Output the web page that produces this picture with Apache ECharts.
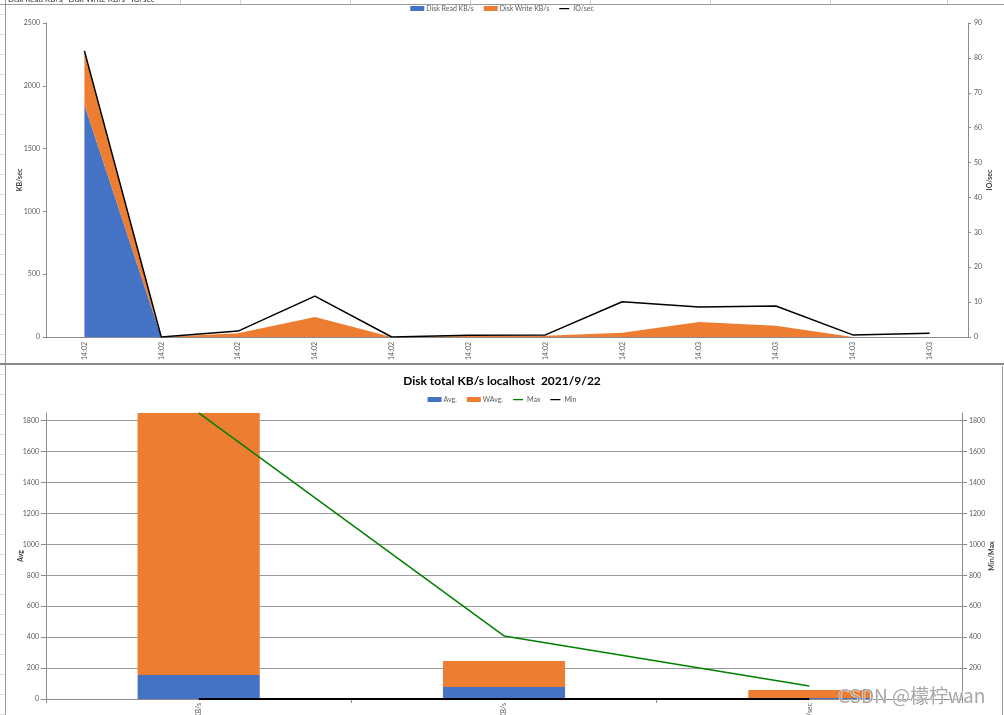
<!DOCTYPE html>
<html>
<head>
<meta charset="utf-8">
<script src="https://cdn.jsdelivr.net/npm/echarts@6/dist/echarts.min.js"></script>
<style>
html,body{margin:0;padding:0;background:#fff;}
#c{width:1004px;height:715px;}
</style>
</head>
<body>
<div id="c"></div>
<script>
// ---- top chart data ----
const times = ['14:02','14:02','14:02','14:02','14:02','14:02','14:02','14:02','14:03','14:03','14:03','14:03'];
const diskRead = [1847, 0, 0, 0, 0, 0, 0, 0, 0, 0, 0, 0];
const diskWrite = [430, 0, 29, 159, 0, 8, 10, 34, 119, 90, 0, 0];
const ioSec = [82, 0, 1.7, 11.7, 0, 0.5, 0.6, 10.1, 8.6, 8.9, 0.6, 1.1];

// ---- bottom chart data ----
const totalCats = ['Disk Read KB/s', 'Disk Write KB/s', 'IO/sec'];
const avgVals = [155, 78, 6];
const wavgVals = [1696, 168, 52];
const maxVals = [1851, 408, 84];
const minVals = [0, 0, 0];

const FONT = 'Lato, "Liberation Sans", sans-serif';
const LBL = {fontFamily: FONT, fontSize: 7, color: '#595959', formatter: v => String(v)};
const AX = '#8c8c8c';
const NAME_STYLE = {fontFamily: FONT, fontSize: 7, fontWeight: 'bold', color: '#404040'};
const LINE_ICON = 'path://M0,0L0.01,0L0,0.01Z M0,4L20,4L20,6.5L0,6.5Z M0,10L0.01,10L0,9.99Z';

const deco = [];
// spreadsheet decoration
deco.push({type:'line', shape:{x1:0,y1:4.5,x2:1004,y2:4.5}, style:{stroke:'#9a9a9a', lineWidth:1}});
deco.push({type:'line', shape:{x1:5.5,y1:0,x2:5.5,y2:715}, style:{stroke:'#9a9a9a', lineWidth:1}});
deco.push({type:'line', shape:{x1:0,y1:364,x2:1004,y2:364}, style:{stroke:'#8a8a8a', lineWidth:2}});
deco.push({type:'line', shape:{x1:1002.5,y1:366,x2:1002.5,y2:715}, style:{stroke:'#9a9a9a', lineWidth:1}});
for (let y = 14; y < 715; y += 20) {
  deco.push({type:'line', shape:{x1:0,y1:y+0.5,x2:5,y2:y+0.5}, style:{stroke:'#dcdcdc', lineWidth:1}});
}
[62, 180, 240, 350, 470, 590, 710, 830, 947].forEach(x => {
  deco.push({type:'line', shape:{x1:x+0.5,y1:0,x2:x+0.5,y2:4}, style:{stroke:'#d0d0d0', lineWidth:1}});
});
deco.push({type:'text', x:8, y:-5, style:{text:'Disk Read KB/s   Disk Write KB/s   IO/sec', font:'8px ' + FONT, fill:'#333'}});
// watermark
deco.push({type:'text', x:838, y:686, z:100, style:{text:'CSDN @檬柠wan', font:'19px "Noto Sans CJK SC", sans-serif', fill:'rgba(150,150,150,0.85)', stroke:'rgba(255,255,255,0.9)', lineWidth:1}});

const chart = echarts.init(document.getElementById('c'), null, {renderer:'canvas'});
chart.setOption({
  animation: false,
  backgroundColor: '#fff',
  title: {
    text: 'Disk total KB/s localhost  2021/9/22',
    left: 'center', top: 370,
    textStyle: {fontFamily: FONT, fontSize: 12, fontWeight: 'bold', color: '#000'}
  },
  legend: [
    {
      data: [{name:'Disk Read KB/s', icon:'rect'}, {name:'Disk Write KB/s', icon:'rect'}, {name:'IO/sec', icon: LINE_ICON}],
      top: 0, left: 'center', itemWidth: 14, itemHeight: 5, itemGap: 10,
      textStyle: {fontFamily: FONT, fontSize: 7, color: '#595959', padding:[0,0,0,-3]}
    },
    {
      data: [{name:'Avg.', icon:'rect'}, {name:'WAvg.', icon:'rect'}, {name:'Max', icon: LINE_ICON}, {name:'Min', icon: LINE_ICON}],
      top: 391, left: 'center', itemWidth: 14, itemHeight: 5, itemGap: 10,
      textStyle: {fontFamily: FONT, fontSize: 7, color: '#595959', padding:[0,0,0,-3]}
    }
  ],
  grid: [
    {left: 46, right: 36, top: 23, height: 314, containLabel: false, outerBoundsMode: 'none'},
    {left: 46, right: 42, top: 413, height: 286, containLabel: false, outerBoundsMode: 'none'}
  ],
  xAxis: [
    {
      type: 'category', gridIndex: 0, data: times, boundaryGap: true,
      axisLine: {lineStyle: {color: AX}}, axisTick: {show: false},
      axisLabel: {rotate: 90, margin: 5, interval: 0, fontFamily: FONT, fontSize: 7, color: '#595959'}
    },
    {
      type: 'category', gridIndex: 1, data: totalCats, boundaryGap: true,
      axisLine: {lineStyle: {color: AX}}, axisTick: {show: true, length: 4, lineStyle:{color: AX}},
      axisLabel: {rotate: 90, margin: 4, interval: 0, fontFamily: FONT, fontSize: 7, color: '#595959'}
    }
  ],
  yAxis: [
    {
      type: 'value', gridIndex: 0, min: 0, max: 2500, interval: 500,
      name: 'KB/sec', nameLocation: 'middle', nameGap: 23, nameMoveOverlap: false,
      nameTextStyle: NAME_STYLE,
      axisLine: {show: true, lineStyle: {color: AX}}, axisTick: {show: true, length: 3, lineStyle:{color: AX}},
      splitLine: {show: false}, axisLabel: Object.assign({margin: 6}, LBL)
    },
    {
      type: 'value', gridIndex: 0, min: 0, max: 90, interval: 10, position: 'right',
      name: 'IO/sec', nameLocation: 'middle', nameGap: 18, nameMoveOverlap: false,
      nameTextStyle: NAME_STYLE,
      axisLine: {show: true, lineStyle: {color: AX}}, axisTick: {show: true, length: 3, lineStyle:{color: AX}},
      splitLine: {show: false}, axisLabel: Object.assign({margin: 6}, LBL)
    },
    {
      type: 'value', gridIndex: 1, min: 0, max: 1850, interval: 200,
      name: 'Avg', nameLocation: 'middle', nameGap: 22, nameMoveOverlap: false,
      nameTextStyle: NAME_STYLE,
      axisLine: {show: true, lineStyle: {color: AX}}, axisTick: {show: true, length: 5, lineStyle:{color: AX}},
      splitLine: {show: true, lineStyle: {color: ['transparent','#9a9a9a','#9a9a9a','#9a9a9a','#9a9a9a','#9a9a9a','#9a9a9a','#9a9a9a','#9a9a9a','#9a9a9a'], width: 1}},
      axisLabel: Object.assign({margin: 7, showMaxLabel: false}, LBL)
    },
    {
      type: 'value', gridIndex: 1, min: 0, max: 1850, interval: 200, position: 'right',
      name: 'Min/Max', nameLocation: 'middle', nameGap: 26, nameMoveOverlap: false,
      nameTextStyle: NAME_STYLE,
      axisLine: {show: true, lineStyle: {color: AX}}, axisTick: {show: true, length: 5, lineStyle:{color: AX}},
      splitLine: {show: false},
      axisLabel: Object.assign({margin: 7, showMaxLabel: false, showMinLabel: false}, LBL)
    }
  ],
  series: [
    {
      name: 'Disk Read KB/s', type: 'line', xAxisIndex: 0, yAxisIndex: 0, stack: 'kb',
      data: diskRead, symbol: 'none', color: '#4472C4',
      lineStyle: {width: 0}, areaStyle: {color: '#4472C4', opacity: 1}
    },
    {
      name: 'Disk Write KB/s', type: 'line', xAxisIndex: 0, yAxisIndex: 0, stack: 'kb',
      data: diskWrite, symbol: 'none', color: '#ED7D31',
      lineStyle: {width: 0}, areaStyle: {color: '#ED7D31', opacity: 1}
    },
    {
      name: 'IO/sec', type: 'line', xAxisIndex: 0, yAxisIndex: 1,
      data: ioSec, symbol: 'none', color: '#000',
      lineStyle: {width: 1.5, color: '#000'}, z: 5
    },
    {
      name: 'Avg.', type: 'bar', xAxisIndex: 1, yAxisIndex: 2, stack: 'tot',
      data: avgVals, barWidth: '40%', itemStyle: {color: '#4472C4'}
    },
    {
      name: 'WAvg.', type: 'bar', xAxisIndex: 1, yAxisIndex: 2, stack: 'tot',
      data: wavgVals, barWidth: '40%', itemStyle: {color: '#ED7D31'}
    },
    {
      name: 'Max', type: 'line', xAxisIndex: 1, yAxisIndex: 3,
      data: maxVals, symbol: 'none', color: '#008000',
      lineStyle: {width: 1.5, color: '#008000'}, z: 5
    },
    {
      name: 'Min', type: 'line', xAxisIndex: 1, yAxisIndex: 3,
      data: minVals, symbol: 'none', color: '#000',
      lineStyle: {width: 2, color: '#000'}, z: 6
    }
  ],
  graphic: deco
});
</script>
</body>
</html>
